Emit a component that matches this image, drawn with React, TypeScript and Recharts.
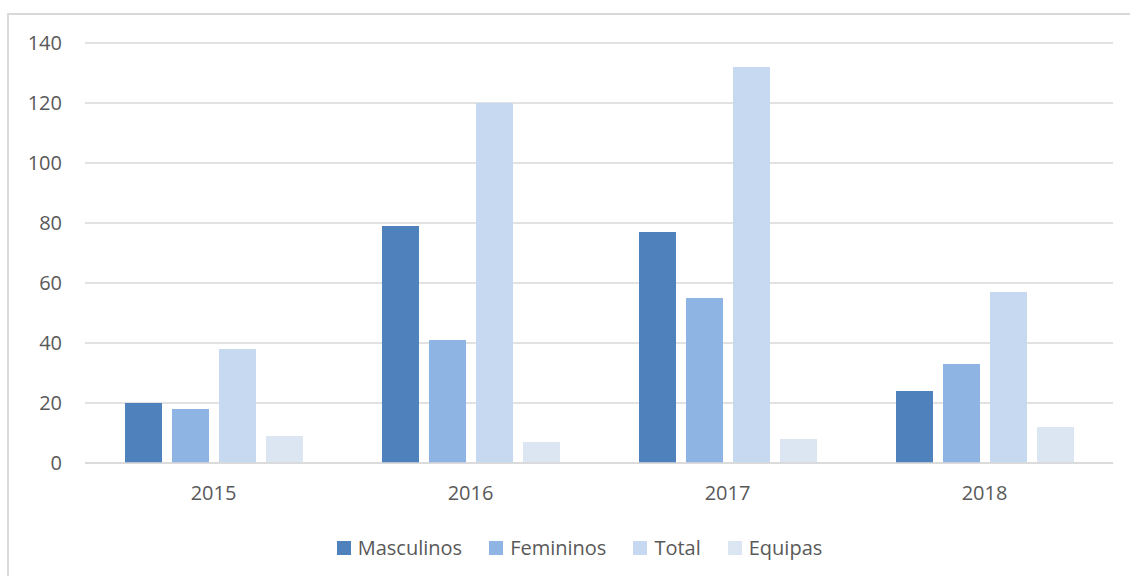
import React from "react"
import { BarChart, Bar, XAxis, YAxis, CartesianGrid, Legend } from "recharts"

// years on the x axis
const years = ["2015", "2016", "2017", "2018"]

// series values
const masculinos = [20, 79, 77, 24]
const femininos = [18, 41, 55, 33]
const total = [38, 120, 132, 57]
const equipas = [9, 7, 8, 12]

const yTicks = [0, 20, 40, 60, 80, 100, 120, 140]

const series = [
  { key: "masculinos", name: "Masculinos", color: "#4f81bd" },
  { key: "femininos", name: "Femininos", color: "#8eb4e3" },
  { key: "total", name: "Total", color: "#c6d9f1" },
  { key: "equipas", name: "Equipas", color: "#dce6f2" },
]

const data = years.map((year, i) => ({
  year,
  masculinos: masculinos[i],
  femininos: femininos[i],
  total: total[i],
  equipas: equipas[i],
}))

const font = "'Open Sans', sans-serif"
const textColor = "#595959"

// legend is centred on the outer frame, a bit right of the plot centre
function LegendRow() {
  return (
    <div
      style={{
        display: "flex",
        justifyContent: "center",
        paddingLeft: 46,
        fontFamily: font,
        fontSize: 20,
        color: textColor,
      }}
    >
      {series.map((s, i) => (
        <div key={s.key} style={{ display: "flex", alignItems: "center", marginRight: i < series.length - 1 ? 27 : 0 }}>
          <span style={{ width: 14, height: 14, background: s.color, display: "inline-block", marginRight: 7 }} />
          <span>{s.name}</span>
        </div>
      ))}
    </div>
  )
}

export default function App() {
  return (
    <div style={{ position: "absolute", left: 0, top: 0, width: 1130, height: 576, overflow: "hidden", background: "#fff" }}>
      <div
        style={{
          position: "absolute",
          left: 7,
          top: 13,
          width: 1200,
          height: 700,
          border: "2px solid #d9d9d9",
        }}
      />
      <BarChart
        width={1130}
        height={576}
        data={data}
        margin={{ top: 43, right: 17, left: 0, bottom: 48 }}
        barCategoryGap={40}
        barGap={10}
      >
        <CartesianGrid vertical={false} stroke="#d9d9d9" strokeWidth={1.5} />
        <XAxis
          dataKey="year"
          tickLine={false}
          axisLine={{ stroke: "#d9d9d9", strokeWidth: 1.5 }}
          tickSize={0}
          tickMargin={23}
          height={40}
          tick={{ fill: textColor, fontSize: 20, fontFamily: font }}
        />
        <YAxis
          domain={[0, 140]}
          ticks={yTicks}
          width={85}
          tickLine={false}
          axisLine={false}
          tickSize={0}
          tickMargin={23}
          tick={{ fill: textColor, fontSize: 20, fontFamily: font }}
        />
        <Legend verticalAlign="bottom" height={25} content={() => <LegendRow />} wrapperStyle={{ top: 534 }} />
        {series.map((s) => (
          <Bar key={s.key} dataKey={s.key} name={s.name} fill={s.color} isAnimationActive={false} />
        ))}
      </BarChart>
    </div>
  )
}
